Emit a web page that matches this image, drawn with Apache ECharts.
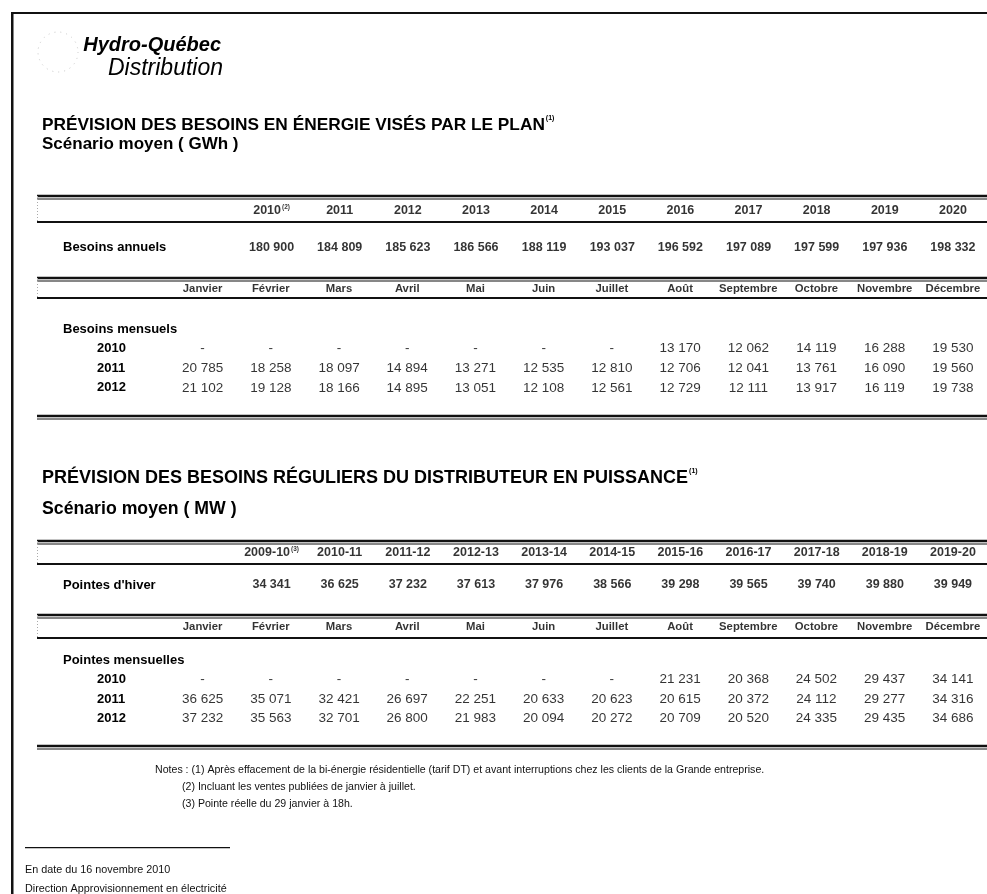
<!DOCTYPE html>
<html><head><meta charset="utf-8">
<script src="https://cdn.jsdelivr.net/npm/echarts@6/dist/echarts.min.js"></script>
<style>html,body{margin:0;padding:0;background:#fff}#c{width:987px;height:894px}</style>
</head><body><div id="c"></div>
<script>
// ---------------- DATA ----------------
const years1 = ['2010','2011','2012','2013','2014','2015','2016','2017','2018','2019','2020'];
const yearNotes1 = ['(2)','','','','','','','','','',''];
const annualGWh = [180900,184809,185623,186566,188119,193037,196592,197089,197599,197936,198332];

const months = ['Janvier','Février','Mars','Avril','Mai','Juin','Juillet','Août','Septembre','Octobre','Novembre','Décembre'];
const monthRowLabels = ['2010','2011','2012'];
const energy2010 = [null,null,null,null,null,null,null,13170,12062,14119,16288,19530];
const energy2011 = [20785,18258,18097,14894,13271,12535,12810,12706,12041,13761,16090,19560];
const energy2012 = [21102,19128,18166,14895,13051,12108,12561,12729,12111,13917,16119,19738];

const years2 = ['2009-10','2010-11','2011-12','2012-13','2013-14','2014-15','2015-16','2016-17','2017-18','2018-19','2019-20'];
const yearNotes2 = ['(3)','','','','','','','','','',''];
const winterPeakMW = [34341,36625,37232,37613,37976,38566,39298,39565,39740,39880,39949];

const peak2010 = [null,null,null,null,null,null,null,21231,20368,24502,29437,34141];
const peak2011 = [36625,35071,32421,26697,22251,20633,20623,20615,20372,24112,29277,34316];
const peak2012 = [37232,35563,32701,26800,21983,20094,20272,20709,20520,24335,29435,34686];

const logoLines = ['Hydro-Québec','Distribution'];
const title1 = 'PRÉVISION DES BESOINS EN ÉNERGIE VISÉS PAR LE PLAN';
const subtitle1 = 'Scénario moyen ( GWh )';
const title2 = 'PRÉVISION DES BESOINS RÉGULIERS DU DISTRIBUTEUR EN PUISSANCE';
const subtitle2 = 'Scénario moyen ( MW )';
const titleNote = '(1)';
const rowLabel1 = 'Besoins annuels';
const groupLabel1 = 'Besoins mensuels';
const rowLabel2 = "Pointes d'hiver";
const groupLabel2 = 'Pointes mensuelles';
const notes = [
  'Notes : (1) Après effacement de la bi-énergie résidentielle (tarif DT) et avant interruptions chez les clients de la Grande entreprise.',
  '(2) Incluant les ventes publiées de janvier à juillet.',
  '(3) Pointe réelle du 29 janvier à 18h.'
];
const footer = ['En date du 16 novembre 2010','Direction Approvisionnement en électricité'];

// ---------------- LAYOUT / STYLE ----------------
const SANS = "'Liberation Sans', Arial, Helvetica, sans-serif";
const COL = 69;
const MONTH_LEFT = 168.5;           // left edge of the month grid
const YEAR_LEFT = MONTH_LEFT + COL; // year columns line up with Feb..Dec
const LABEL_X = 63;
const TABLE_L = 37, TABLE_R = 987;

const fmt = v => v == null ? '-' : String(v).replace(/\B(?=(\d{3})+(?!\d))/g, ' ');

const grids = [], xAxes = [], yAxes = [], series = [], graphics = [];

function section(o) {
  const gi = grids.length;
  const rowH = o.rowH;
  grids.push({left: o.left, top: o.center - rowH / 2, width: o.cols.length * COL,
              height: o.rows.length * rowH, show: false});
  xAxes.push({type: 'category', gridIndex: gi, data: o.cols, show: false});
  yAxes.push({type: 'category', gridIndex: gi, data: o.rows, inverse: true,
              axisLine: {show: false}, axisTick: {show: false}, splitLine: {show: false},
              axisLabel: o.yLabel ? Object.assign({show: true, align: 'left', margin: o.left - LABEL_X}, o.yLabel) : {show: false}});
  const data = [];
  o.values.forEach((row, r) => row.forEach((v, c) => data.push([c, r, v])));
  series.push({type: 'scatter', xAxisIndex: gi, yAxisIndex: gi, data: data, symbolSize: 1,
               itemStyle: {color: 'rgba(0,0,0,0)'}, silent: true, animation: false,
               label: Object.assign({show: true, position: 'inside', color: '#000'}, o.label)});
}

const headerLabel = (names, notesArr) => ({
  formatter: p => '{b|' + names[p.value[0]] + '}' + (notesArr[p.value[0]] ? '{s|' + notesArr[p.value[0]] + '}' : ''),
  rich: {
    b: {fontFamily: SANS, fontSize: 12.5, fontWeight: 'bold', color: '#000'},
    s: {fontFamily: SANS, fontSize: 6.5, fontWeight: 'bold', color: '#000', verticalAlign: 'top', padding: [0, 0, 8, 1]}
  }
});
const monthHeaderLabel = {formatter: p => months[p.value[0]], fontFamily: SANS, fontSize: 11.3, fontWeight: 'bold'};
const valueLabel = {fontFamily: SANS, fontSize: 13.5};
const boldValueLabel = {formatter: p => fmt(p.value[2]), fontFamily: SANS, fontSize: 12.5, fontWeight: 'bold'};
const rowLabelStyle = {fontFamily: SANS, fontSize: 13, fontWeight: 'bold', color: '#000'};
const groupYLabel = {
  formatter: v => monthRowLabels.indexOf(v) >= 0 ? '{y|' + v + '}' : '{h|' + v + '}',
  rich: {
    h: rowLabelStyle,
    y: Object.assign({padding: [0, 0, 0, 34]}, rowLabelStyle)
  }
};

function table(t) {
  // year header band
  section({left: YEAR_LEFT, center: t.yHead, rowH: 22, cols: t.years, rows: ['h'],
           values: [t.years.map(() => null)], label: headerLabel(t.years, t.yearNotes)});
  // annual values
  section({left: YEAR_LEFT, center: t.yAnnual, rowH: 20, cols: t.years, rows: [t.rowLabel],
           values: [t.annual], label: boldValueLabel, yLabel: rowLabelStyle});
  // month header band
  section({left: MONTH_LEFT, center: t.mHead, rowH: 20, cols: months, rows: ['m'],
           values: [months.map(() => null)], label: monthHeaderLabel});
  // monthly values (first row holds only the group label)
  section({left: MONTH_LEFT, center: t.mFirst, rowH: t.mRowH, cols: months,
           rows: [t.groupLabel].concat(monthRowLabels),
           values: [months.map(() => '')].concat(t.monthly),
           label: Object.assign({}, valueLabel, {formatter: p => p.value[1] === 0 ? '' : fmt(p.value[2])}),
           yLabel: groupYLabel});
  // rules
  const hl = (y, w) => graphics.push({type: 'rect', silent: true,
    shape: {x: TABLE_L, y: y - w / 2, width: TABLE_R - TABLE_L, height: w}, style: {fill: '#111'}});
  hl(t.lines[0], 2.5); hl(t.lines[0] + 3, 0.8);
  hl(t.lines[1], 1.8);
  hl(t.lines[2], 2.5); hl(t.lines[2] + 3, 0.8);
  hl(t.lines[3], 1.8);
  hl(t.lines[4], 2.5); hl(t.lines[4] + 3, 1);
}

table({years: years1, yearNotes: yearNotes1, annual: annualGWh, rowLabel: rowLabel1, groupLabel: groupLabel1,
       monthly: [energy2010, energy2011, energy2012],
       yHead: 211, yAnnual: 247.5, mHead: 289, mFirst: 329, mRowH: 19.6,
       lines: [196, 222, 278, 298, 416]});
table({years: years2, yearNotes: yearNotes2, annual: winterPeakMW, rowLabel: rowLabel2, groupLabel: groupLabel2,
       monthly: [peak2010, peak2011, peak2012],
       yHead: 553, yAnnual: 585, mHead: 627, mFirst: 660, mRowH: 19.5,
       lines: [541, 564, 615, 638, 746]});

// page frame
graphics.push({type: 'rect', silent: true, shape: {x: 11, y: 12, width: 976, height: 2}, style: {fill: '#111'}});
graphics.push({type: 'rect', silent: true, shape: {x: 11, y: 12, width: 2.5, height: 882}, style: {fill: '#111'}});
// faint dotted vertical marks at the left of header bands
[[196, 222], [278, 298], [541, 564], [615, 638]].forEach(b => graphics.push({type: 'line', silent: true,
  shape: {x1: 37.5, y1: b[0], x2: 37.5, y2: b[1]}, style: {stroke: '#aaa', lineWidth: 1, lineDash: [1, 2]}}));
// logo
graphics.push({type: 'circle', silent: true, shape: {cx: 58, cy: 52, r: 20},
               style: {fill: 'none', stroke: '#c8c8c8', lineWidth: 1, lineDash: [1, 5]}});
graphics.push({type: 'text', silent: true, style: {x: 221, y: 45, text: logoLines[0], fill: '#000',
  font: 'italic bold 20px ' + SANS, align: 'right', textAlign: 'right', verticalAlign: 'middle', textVerticalAlign: 'middle'}});
graphics.push({type: 'text', silent: true, style: {x: 223, y: 69, text: logoLines[1], fill: '#000',
  font: 'italic 23px ' + SANS, align: 'right', textAlign: 'right', verticalAlign: 'middle', textVerticalAlign: 'middle'}});
// notes
const noteX = [155, 182, 182], noteY = [770, 787, 804];
notes.forEach((n, i) => graphics.push({type: 'text', silent: true, style: {x: noteX[i], y: noteY[i], text: n, fill: '#111',
  font: '10.6px ' + SANS, verticalAlign: 'middle', textVerticalAlign: 'middle'}}));
// footer
graphics.push({type: 'rect', silent: true, shape: {x: 25, y: 847, width: 205, height: 1.2}, style: {fill: '#111'}});
footer.forEach((f, i) => graphics.push({type: 'text', silent: true, style: {x: 25, y: 870 + i * 19, text: f, fill: '#111',
  font: '10.8px ' + SANS, verticalAlign: 'middle', textVerticalAlign: 'middle'}}));

const mkTitle = (text, sub, center, gap, size) => ([
  {left: 42, top: center - 10, padding: 0, text: '{t|' + text + '}{s|' + titleNote + '}', textStyle: {rich: {
    t: {fontFamily: SANS, fontSize: size, fontWeight: 'bold', color: '#000', lineHeight: 20},
    s: {fontFamily: SANS, fontSize: 7, fontWeight: 'bold', color: '#000', verticalAlign: 'top', lineHeight: 20, padding: [0, 0, 9, 1]}
  }}},
  {left: 42, top: center + gap - 10, padding: 0, text: sub,
   textStyle: {fontFamily: SANS, fontSize: size - 0.3, fontWeight: 'bold', color: '#000', lineHeight: 20}}
]);

const chart = echarts.init(document.getElementById('c'), null, {renderer: 'canvas'});
chart.setOption({
  backgroundColor: '#fff',
  animation: false,
  title: mkTitle(title1, subtitle1, 125, 19, 17.3).concat(mkTitle(title2, subtitle2, 478, 31, 18)),
  grid: grids, xAxis: xAxes, yAxis: yAxes, series: series,
  graphic: {elements: graphics}
});
</script></body></html>
